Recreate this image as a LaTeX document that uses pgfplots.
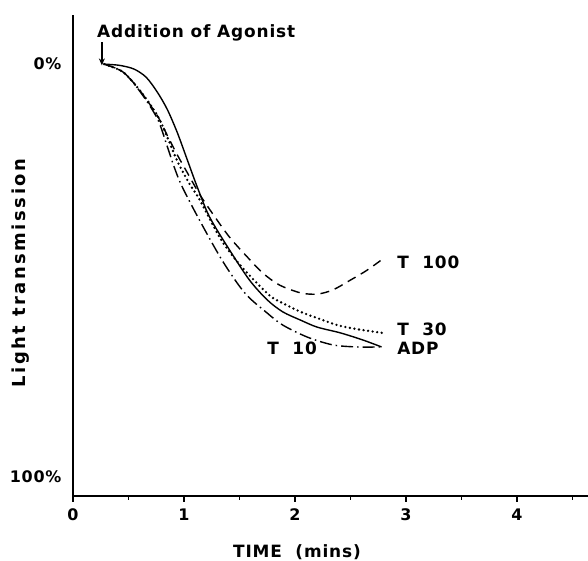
\documentclass[border=0pt]{standalone}
\usepackage{fontspec}
\setmainfont{DejaVu Sans}[LetterSpace=5]
\newfontfamily\ylabfont{DejaVu Sans}[LetterSpace=14]
\usepackage{pgfplots}
\usepackage{pgfplotstable}
\pgfplotsset{compat=1.18}
\usetikzlibrary{arrows.meta}

\pgfplotstableread{
t p
0.28 0
0.42 0.3
0.55 1.2
0.66 3.2
0.76 6.8
0.85 11.0
0.94 16.6
1.03 23.2
1.12 29.8
1.23 37.0
1.41 45.0
1.59 52.3
1.75 57.1
1.89 60.0
2.05 62.0
2.20 63.7
2.41 65.1
2.61 66.8
2.78 68.5
}\adp

\pgfplotstableread{
t p
0.28 0
0.45 1.9
0.60 6.3
0.76 12.4
0.85 17.7
0.94 23.5
1.05 29.0
1.14 32.8
1.32 41.9
1.44 46.5
1.57 50.6
1.77 56.0
1.89 57.9
2.05 60.0
2.20 61.5
2.38 63.2
2.56 64.2
2.79 65.1
}\tthirty

\pgfplotstableread{
t p
0.28 0
0.45 1.9
0.60 6.3
0.76 12.5
0.85 17.3
0.94 22.0
1.03 26.3
1.14 31.5
1.26 36.3
1.41 41.9
1.57 46.7
1.71 50.6
1.86 53.5
2.05 55.4
2.20 55.7
2.34 54.7
2.50 52.3
2.65 49.9
2.79 47.2
}\thundred

\pgfplotstableread{
t p
0.28 0
0.45 1.9
0.60 6.5
0.76 13.2
0.85 20.0
0.91 24.8
0.98 29.5
1.14 37.8
1.35 47.8
1.55 55.5
1.75 60.3
1.89 63.2
2.11 66.1
2.34 68.0
2.56 68.5
2.78 68.5
}\tten

\begin{document}
\begin{tikzpicture}
\path[use as bounding box] (-73bp,-65bp) rectangle (515bp,496bp);
\begin{axis}[
  at={(0bp,0bp)}, anchor=south west,
  scale only axis, width=515bp, height=481bp,
  xmin=0, xmax=4.64, ymin=-104.6, ymax=11.9,
  axis x line*=bottom, axis y line*=left,
  xtick={0,1,2,3,4}, minor xtick={0.5,1.5,2.5,3.5,4.5},
  ytick={-100,0}, yticklabels={100\%,0\%},
  tick align=outside,
  major tick length=6bp, minor tick length=4bp,
  ytick style={draw=none},
  /pgf/number format/assume math mode=true,
  tick label style={font=\fontsize{16}{16}\selectfont\bfseries},
  xticklabel style={yshift=-3bp},
  yticklabel style={xshift=-2bp},
  axis line style={line width=1.3bp},
  tick style={line width=1.3bp, black},
  clip=false,
]
\addplot[black, line width=1.4bp, smooth] table[y expr=-\thisrow{p}] {\adp};
\addplot[black, line width=2.6bp, line cap=round, dash pattern=on 0bp off 4.6bp, smooth] table[y expr=-\thisrow{p}] {\tthirty};
\addplot[black, line width=1.4bp, dash pattern=on 9bp off 6bp, smooth] table[y expr=-\thisrow{p}] {\thundred};
\addplot[black, line width=1.4bp, dash pattern=on 12bp off 4bp on 1.5bp off 4bp, smooth] table[y expr=-\thisrow{p}] {\tten};

\draw[-{Stealth[length=7bp,width=6bp]}, line width=1.3bp] (axis cs:0.26,5.3) -- (axis cs:0.26,-0.3);

\node[anchor=west, inner sep=0pt, font=\fontsize{17}{17}\selectfont\bfseries] at (axis cs:2.92,-47.9) {T\ \ 100};
\node[anchor=west, inner sep=0pt, font=\fontsize{17}{17}\selectfont\bfseries] at (axis cs:2.92,-64.2) {T\ \ 30};
\node[anchor=west, inner sep=0pt, font=\fontsize{17}{17}\selectfont\bfseries] at (axis cs:2.92,-68.8) {ADP};
\node[anchor=west, inner sep=0pt, font=\fontsize{17}{17}\selectfont\bfseries] at (axis cs:1.75,-68.8) {T\ \ 10};
\end{axis}
\node[anchor=base west, inner sep=0pt, font=\fontsize{17}{17}\selectfont\bfseries] at (24bp,458bp) {Addition of Agonist};
\node[rotate=90, inner sep=0pt, font=\fontsize{18}{18}\selectfont\ylabfont\bfseries] at (-52.5bp,223bp) {Light transmission};
\node[inner sep=0pt, font=\fontsize{17}{17}\selectfont\bfseries] at (224bp,-56bp) {TIME\ \ (mins)};
\end{tikzpicture}
\end{document}
